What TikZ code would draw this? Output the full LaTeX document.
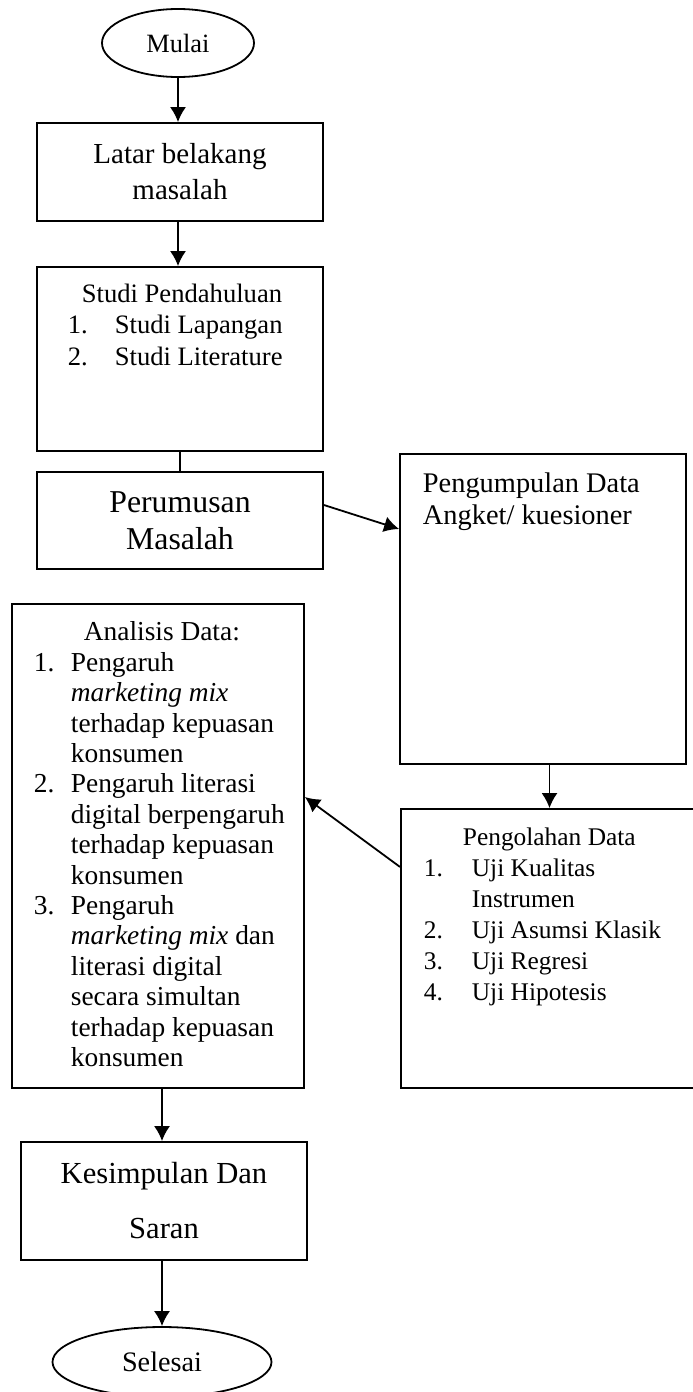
\documentclass[tikz,border=0pt]{standalone}
\usepackage{fontspec}
\setmainfont{Liberation Serif}
\usetikzlibrary{arrows.meta,shapes.geometric}

\newcommand{\nr}[2]{\makebox[#1][l]{#2}}

\begin{document}
\begin{tikzpicture}[x=0.5pt,y=-0.5pt,>={Latex[length=7.5pt,width=8pt]},line width=0.9pt,
	box/.style={draw,rectangle,inner sep=0pt,minimum width=143pt},
	oval/.style={draw,ellipse,inner sep=0pt},
	txt/.style={inner sep=0pt,anchor=north west,align=left}]
	\useasboundingbox (0,0) rectangle (692,1392);

	% Start and end
	\node[oval,minimum width=76pt,minimum height=34pt,font={\fontsize{13.2pt}{15pt}\selectfont}] (mulai) at (178,43) {Mulai};
	\node[oval,minimum width=109.5pt,minimum height=35pt,font={\fontsize{14.1pt}{16pt}\selectfont}] (selesai) at (162,1362) {Selesai};

	% Boxes
	\node[box,minimum height=49pt,align=center,font={\fontsize{14.5pt}{18pt}\selectfont}] (latar) at (180,172) {Latar belakang\\masalah};
	\node[box,minimum height=92pt] (studi) at (180,359) {};
	\node[box,minimum height=48.5pt,align=center,font={\fontsize{15.9pt}{18.5pt}\selectfont}] (rumusan) at (180,520.5) {Perumusan\\Masalah};
	\node[box,minimum height=155pt] (kumpul) at (543,609) {};
	\node[box,minimum width=146pt,minimum height=242pt] (analisis) at (158,846) {};
	\node[box,minimum width=148.5pt,minimum height=139.5pt] (olah) at (549.5,948.5) {};
	\node[box,minimum height=59pt,align=center,font={\fontsize{15.3pt}{27.5pt}\selectfont}] (simpul) at (164,1201) {Kesimpulan Dan\\Saran};

	% Box texts
	\node[txt,font={\fontsize{13.3pt}{15.75pt}\selectfont}] (studitxt) at (67,283)
		{\hspace*{7pt}Studi Pendahuluan\\\nr{23.5pt}{1.}Studi Lapangan\\\nr{23.5pt}{2.}Studi Literature};
	\node[txt,font={\fontsize{14.2pt}{16pt}\selectfont}] (kumpultxt) at (422,472)
		{Pengumpulan Data\\Angket/ kuesioner};
	\node[txt,font={\fontsize{13.7pt}{15.2pt}\selectfont}] (analisistxt) at (33,621)
		{\hspace*{25pt}Analisis Data:\\
		\nr{18.5pt}{1.}Pengaruh\\
		\hspace*{18.5pt}\textit{marketing mix}\\
		\hspace*{18.5pt}terhadap kepuasan\\
		\hspace*{18.5pt}konsumen\\
		\nr{18.5pt}{2.}Pengaruh literasi\\
		\hspace*{18.5pt}digital berpengaruh\\
		\hspace*{18.5pt}terhadap kepuasan\\
		\hspace*{18.5pt}konsumen\\
		\nr{18.5pt}{3.}Pengaruh\\
		\hspace*{18.5pt}\textit{marketing mix} dan\\
		\hspace*{18.5pt}literasi digital\\
		\hspace*{18.5pt}secara simultan\\
		\hspace*{18.5pt}terhadap kepuasan\\
		\hspace*{18.5pt}konsumen};
	\node[txt,font={\fontsize{12.7pt}{15.5pt}\selectfont}] (olahtxt) at (423,827)
		{\hspace*{19.5pt}Pengolahan Data\\
		\nr{24pt}{1.}Uji Kualitas\\
		\hspace*{24pt}Instrumen\\
		\nr{24pt}{2.}Uji Asumsi Klasik\\
		\nr{24pt}{3.}Uji Regresi\\
		\nr{24pt}{4.}Uji Hipotesis};

	% Arrows
	\draw[->] (mulai.south) -- (mulai.south |- latar.north);
	\draw[->] (latar.south -| mulai.south) -- (mulai.south |- studi.north);
	\draw (studi.south) -- (rumusan.north);
	\draw[->] ([yshift=7.75pt]rumusan.east) -- ([yshift=40pt]kumpul.west);
	\draw[->] (kumpul.south -| olah.north) -- (olah.north);
	\draw[->] ([yshift=40.75pt]olah.west) -- ([yshift=24.5pt]analisis.east);
	\draw[->] (analisis.south -| selesai.north) -- (selesai.north |- simpul.north);
	\draw[->] (simpul.south -| selesai.north) -- (selesai.north);
\end{tikzpicture}
\end{document}
